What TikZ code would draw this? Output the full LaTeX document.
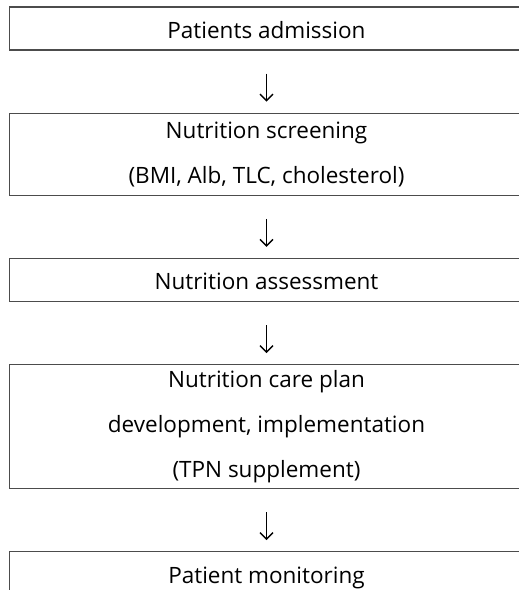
\documentclass[tikz,border=0pt]{standalone}
\usepackage{fontspec}
\setmainfont{Open Sans}
\usetikzlibrary{positioning,arrows.meta}
\begin{document}
\begin{tikzpicture}[x=1pt, y=-1pt,
      node distance=62pt,
      stage/.style={draw=black!70, line width=1.2pt, rectangle,
        minimum width=514pt, inner sep=0pt, align=center,
        font=\fontsize{22.5}{45}\selectfont},
      oneline/.style={stage, minimum height=43pt, text height=19.5pt, text depth=0pt},
      flow/.style={line width=1.4pt, shorten <=23pt, shorten >=11pt,
        -{Straight Barb[length=6.5pt,width=13pt,line width=1.4pt]}},]
      \useasboundingbox (0,0) rectangle (519,590);
      \clip (0,0) rectangle (519,590);
      \node[oneline] (adm) at (266.5,28.5) {Patients admission};
      \node[stage, minimum height=82pt, below=of adm] (scr)
        {Nutrition screening\\(BMI, Alb, TLC, cholesterol)};
      \node[oneline, below=of scr] (ass) {Nutrition assessment};
      \node[stage, minimum height=124pt, below=of ass] (plan)
        {Nutrition care plan\\development, implementation\\(TPN supplement)};
      \node[oneline, below=of plan] (mon) {Patient monitoring};
      \draw[flow] (adm) -- (scr);
      \draw[flow] (scr) -- (ass);
      \draw[flow] (ass) -- (plan);
      \draw[flow] (plan) -- (mon);
    \end{tikzpicture}
\end{document}
